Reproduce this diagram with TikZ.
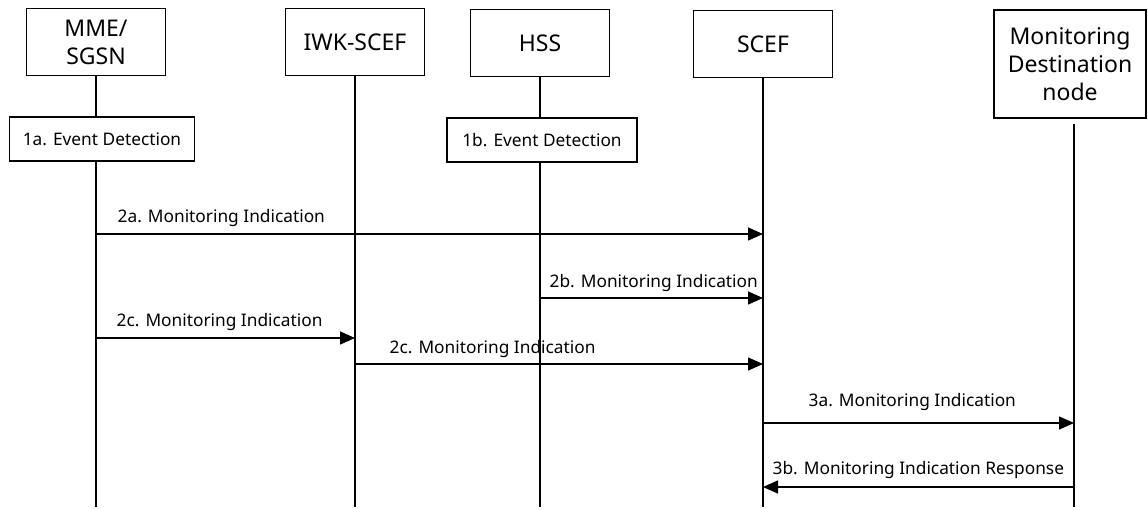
\documentclass[tikz,border=0pt]{standalone}
\usepackage{fontspec}
\setmainfont{Noto Sans}
\usetikzlibrary{arrows.meta}

\begin{document}
\begin{tikzpicture}[x=1pt, y=-1pt,
        entity/.style={draw, line width=1.4pt, minimum width=139pt, minimum height=67pt, align=center, inner sep=2pt, font=\fontsize{23}{28}\selectfont},
        event/.style={draw, fill=white, line width=1.4pt, minimum height=44pt, inner sep=2pt, font=\fontsize{17.3}{20}\selectfont},
        life/.style={line width=1.4pt},
        msg/.style={line width=1.4pt, -{Triangle[length=15pt,width=13pt]}},
        lbl/.style={inner sep=0pt, anchor=base west, font=\fontsize{17.3}{20}\selectfont}]

        \useasboundingbox (0,0) rectangle (1148,509);

        % entities
        \node[entity] (mme) at (96,42) {MME/\\SGSN};
        \node[entity] (iwk) at (355,42) {IWK-SCEF};
        \node[entity] (hss) at (540,43) {HSS};
        \node[entity] (scef) at (763,44) {SCEF};
        \node[entity, minimum width=152pt, minimum height=108pt] (mdn) at (1070,64) {Monitoring\\Destination\\node};

        \node[event, minimum width=185pt] (ev1a) at (102,139) {1a. Event Detection};
        \node[event, minimum width=190pt] (ev1b) at (542,140) {1b. Event Detection};

        \coordinate (bot) at (0,507);
        \coordinate (mdnl) at (1074,124);

        % lifelines
        \draw[life] (mme.south) -- (mme.south |- ev1a.north);
        \draw[life] (mme.south |- ev1a.south) -- (mme.south |- bot);
        \draw[life] (iwk.south) -- (iwk.south |- bot);
        \draw[life] (hss.south) -- (hss.south |- ev1b.north);
        \draw[life] (hss.south |- ev1b.south) -- (hss.south |- bot);
        \draw[life] (scef.south) -- (scef.south |- bot);
        \draw[life] (mdnl) -- (mdnl |- bot);

        % messages
        \coordinate (r2a) at (0,234);
        \coordinate (r2b) at (0,298);
        \coordinate (r2c) at (0,338);
        \coordinate (r2d) at (0,364);
        \coordinate (r3a) at (0,423);
        \coordinate (r3b) at (0,487);

        \draw[msg] (mme |- r2a) -- node[lbl, pos=0, xshift=21pt, yshift=12pt] (l2a) {2a. Monitoring Indication} (scef |- r2a);
        \draw[msg] (hss |- r2b) -- node[lbl, pos=0, xshift=9pt, yshift=11pt] (l2b) {2b. Monitoring Indication} (scef |- r2b);
        \draw[msg] (mme |- r2c) -- node[lbl, pos=0, xshift=20pt, yshift=12pt] (l2c) {2c. Monitoring Indication} (iwk |- r2c);
        \draw[msg] (iwk |- r2d) -- node[lbl, pos=0, xshift=34pt, yshift=11pt] (l2d) {2c. Monitoring Indication} (scef |- r2d);
        \draw[msg] (scef |- r3a) -- node[lbl, pos=0, xshift=45pt, yshift=17pt] (l3a) {3a. Monitoring Indication} (mdnl |- r3a);
        \draw[msg] (mdnl |- r3b) -- node[lbl, pos=1, xshift=9pt, yshift=13pt] (l3b) {3b. Monitoring Indication Response} (scef |- r3b);

\end{tikzpicture}
\end{document}
